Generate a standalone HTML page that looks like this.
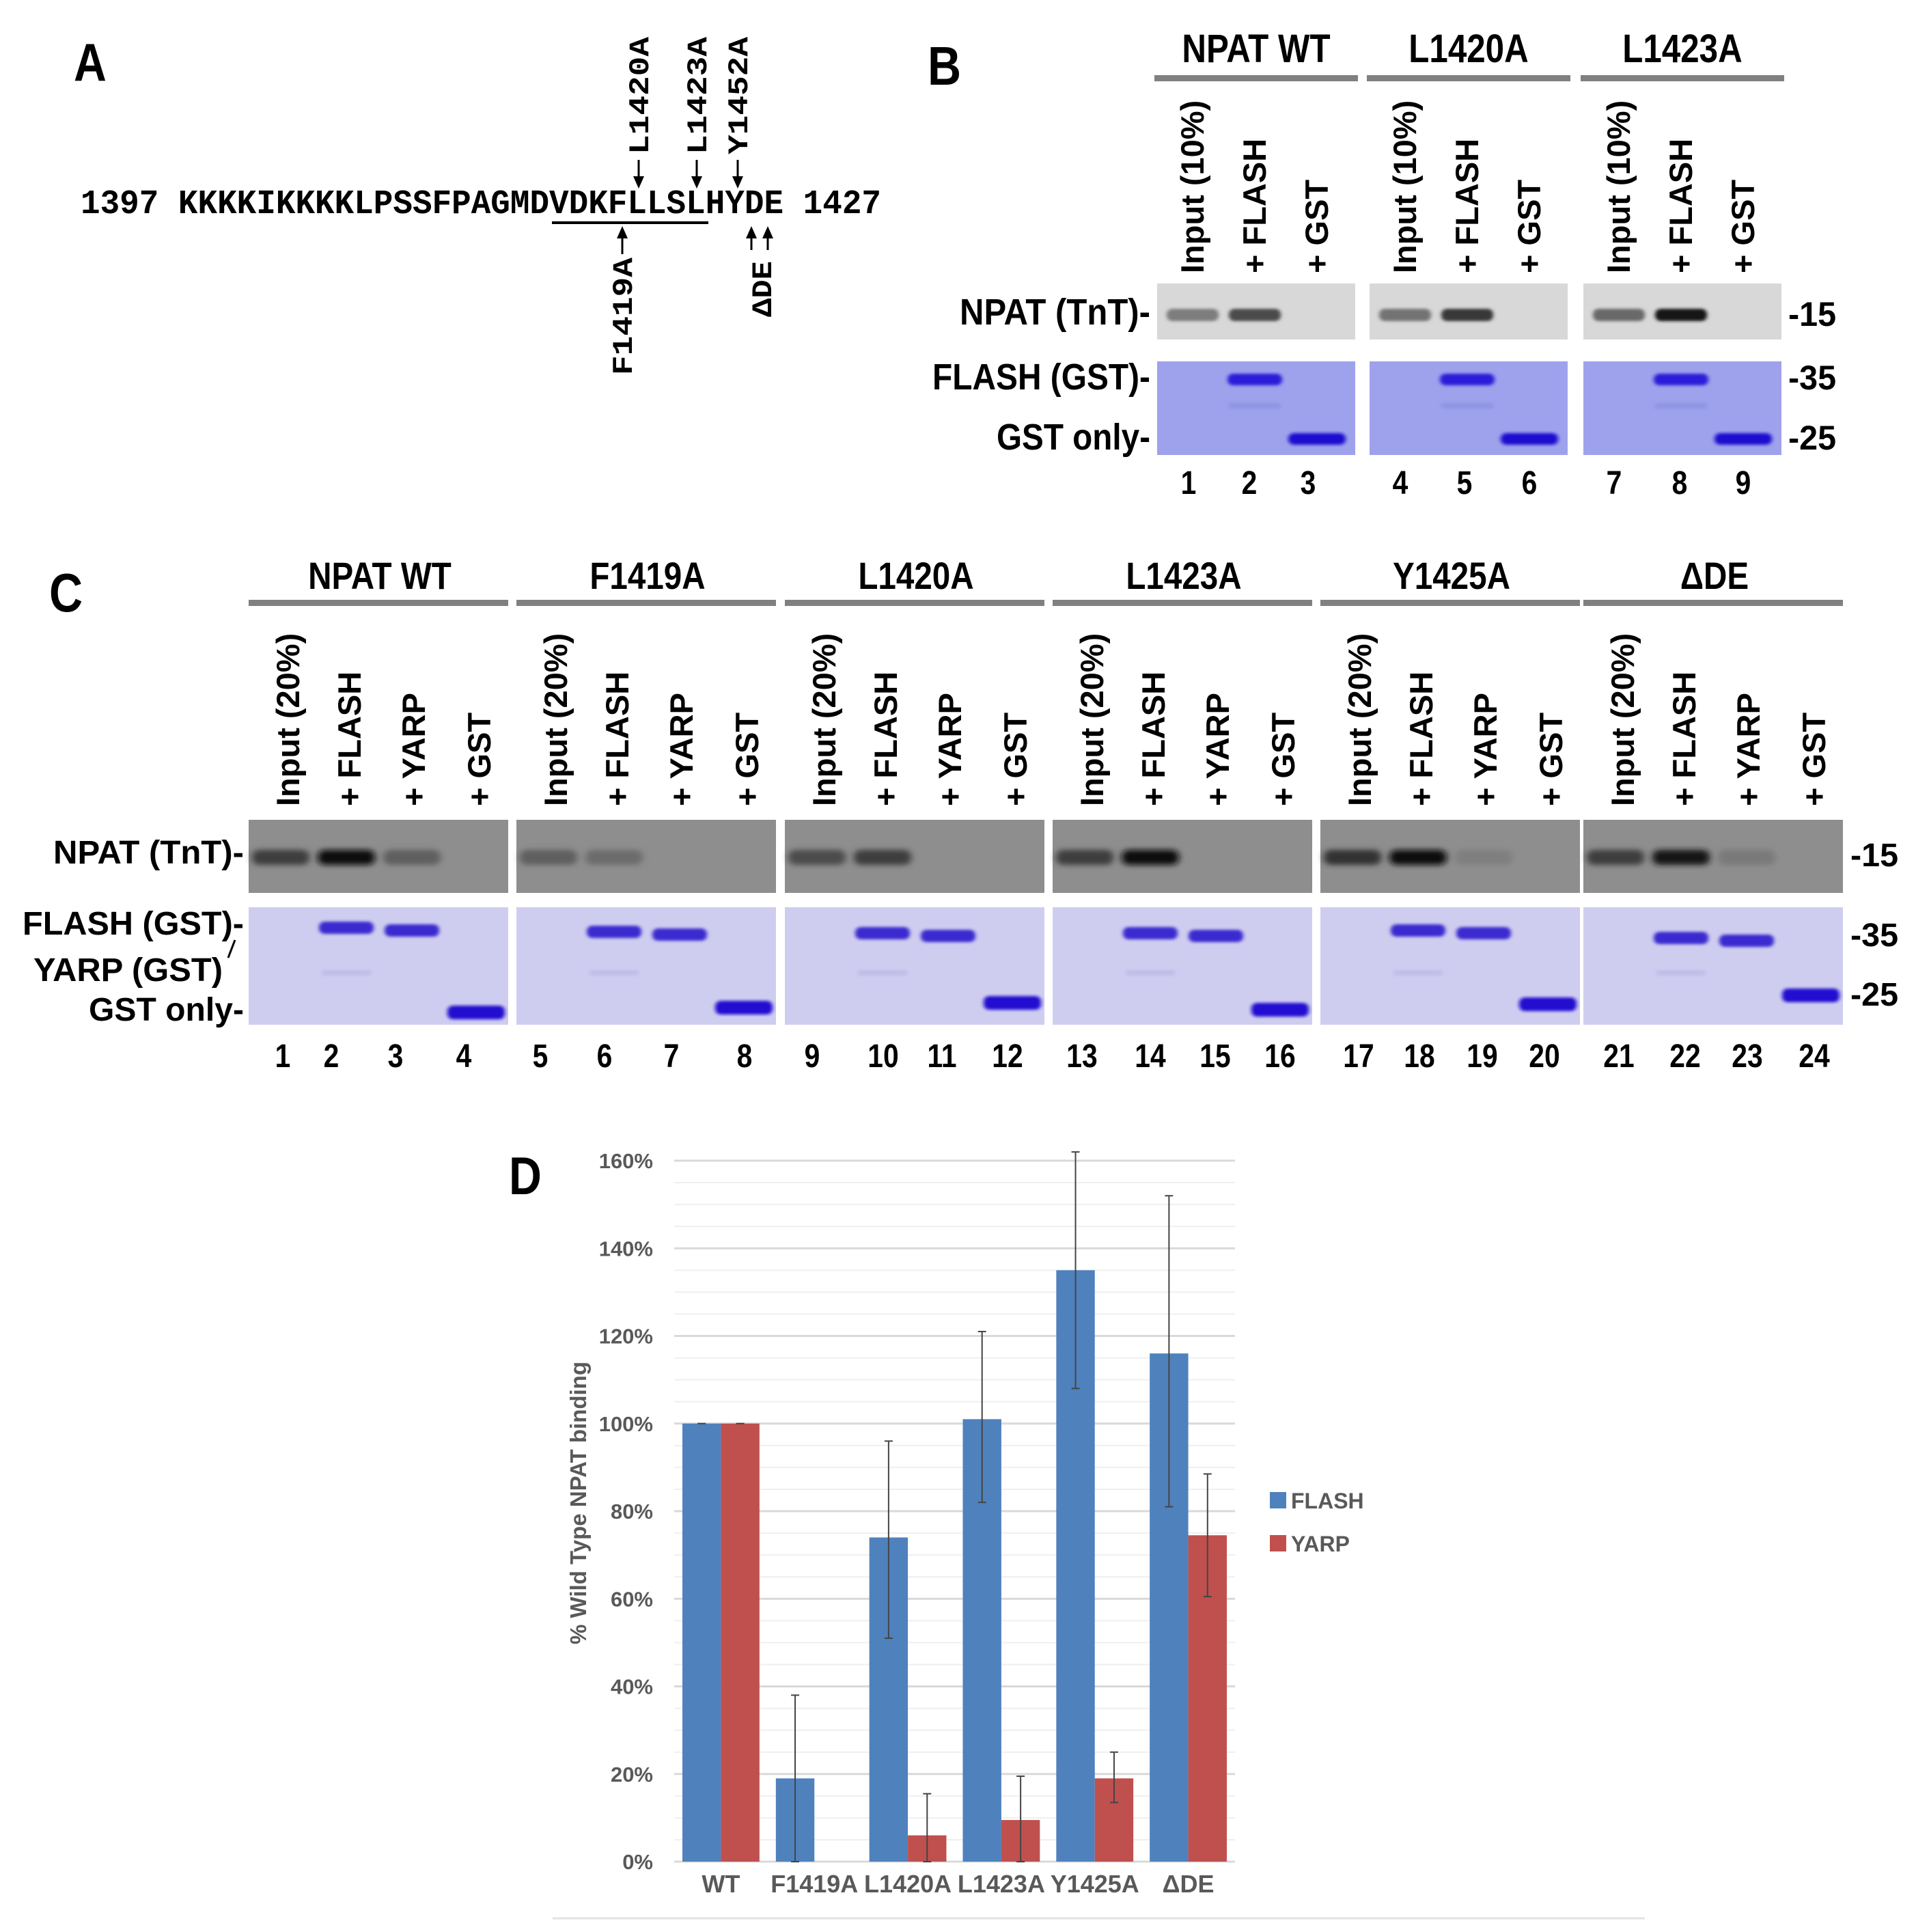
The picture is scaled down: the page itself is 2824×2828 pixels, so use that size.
<!DOCTYPE html>
<html><head><meta charset="utf-8"><style>
html,body{margin:0;padding:0;background:#fff;}
svg{display:block;}
.b{font-family:"Liberation Sans",sans-serif;font-weight:bold;fill:#000;}
.a{font-family:"Liberation Sans",sans-serif;font-weight:bold;fill:#000;}
.m{font-family:"Liberation Mono",monospace;font-weight:bold;fill:#000;}
.g{font-family:"Liberation Sans",sans-serif;font-weight:bold;fill:#595959;}
</style></head><body>
<svg id="fig" width="2824" height="2828" viewBox="0 0 2824 2828" xmlns="http://www.w3.org/2000/svg">
<defs>
<filter id="bl" x="-30%" y="-100%" width="160%" height="300%"><feGaussianBlur stdDeviation="5 4"/></filter>
<filter id="bl2" x="-30%" y="-100%" width="160%" height="300%"><feGaussianBlur stdDeviation="3 2"/></filter>
</defs>

<!-- Panel A -->
<g>
<text class="b" x="108" y="118" font-size="78">A</text>
<text class="m" x="118" y="312" font-size="50" textLength="1172" lengthAdjust="spacingAndGlyphs">1397 KKKKIKKKKLPSSFPAGMDVDKFLLSLHYDE 1427</text>
<line x1="808" y1="326" x2="1037" y2="326" stroke="#000" stroke-width="4"/>
<g>
<text class="m" font-size="42" transform="translate(949,226) rotate(-90)" textLength="172" lengthAdjust="spacingAndGlyphs">L1420A</text>
<text class="m" font-size="42" transform="translate(1034,226) rotate(-90)" textLength="172" lengthAdjust="spacingAndGlyphs">L1423A</text>
<text class="m" font-size="42" transform="translate(1094,226) rotate(-90)" textLength="172" lengthAdjust="spacingAndGlyphs">Y1452A</text>
<text class="m" font-size="42" transform="translate(925,549) rotate(-90)" textLength="172" lengthAdjust="spacingAndGlyphs">F1419A</text>
<text class="m" font-size="42" transform="translate(1129,464) rotate(-90)" textLength="82" lengthAdjust="spacingAndGlyphs">ΔDE</text>
<g stroke="#000" stroke-width="3">
<line x1="935" y1="234" x2="935" y2="262"/><line x1="1020" y1="234" x2="1020" y2="262"/><line x1="1080" y1="234" x2="1080" y2="262"/>
<line x1="911" y1="345" x2="911" y2="372"/><line x1="1100" y1="345" x2="1100" y2="366"/><line x1="1124" y1="345" x2="1124" y2="366"/>
</g>
<path d="M927,258h16l-8,18z M1012,258h16l-8,18z M1072,258h16l-8,18z M903,349h16l-8,-18z M1092,349h16l-8,-18z M1116,349h16l-8,-18z" fill="#000"/>
</g>
</g>

<!-- Panel B -->
<g id="panelB">
<text class="b" x="1358" y="124" font-size="80">B</text>
<text class="a" x="1405" y="475" font-size="54" textLength="279" lengthAdjust="spacingAndGlyphs">NPAT (TnT)-</text>
<text class="a" x="1365" y="570" font-size="54" textLength="319" lengthAdjust="spacingAndGlyphs">FLASH (GST)-</text>
<text class="a" x="1459" y="658" font-size="54" textLength="225" lengthAdjust="spacingAndGlyphs">GST only-</text>
<text class="a" x="2618" y="477" font-size="50" textLength="70" lengthAdjust="spacingAndGlyphs">-15</text>
<text class="a" x="2618" y="570" font-size="50" textLength="70" lengthAdjust="spacingAndGlyphs">-35</text>
<text class="a" x="2618" y="658" font-size="50" textLength="70" lengthAdjust="spacingAndGlyphs">-25</text>
</g>

<!-- Panel C -->
<g id="panelC">
<text class="b" x="72" y="895" font-size="80">C</text>
<text class="a" x="78" y="1264" font-size="48" textLength="279" lengthAdjust="spacingAndGlyphs">NPAT (TnT)-</text>
<text class="a" x="33" y="1368" font-size="48" textLength="324" lengthAdjust="spacingAndGlyphs">FLASH (GST)-</text>
<text class="a" x="49" y="1436" font-size="48" textLength="277" lengthAdjust="spacingAndGlyphs">YARP (GST)</text>
<line x1="334" y1="1402" x2="344" y2="1376" stroke="#000" stroke-width="3"/>
<text class="a" x="130" y="1494" font-size="48" textLength="227" lengthAdjust="spacingAndGlyphs">GST only-</text>
<text class="a" x="2709" y="1268" font-size="48" textLength="70" lengthAdjust="spacingAndGlyphs">-15</text>
<text class="a" x="2709" y="1385" font-size="48" textLength="70" lengthAdjust="spacingAndGlyphs">-35</text>
<text class="a" x="2709" y="1472" font-size="48" textLength="70" lengthAdjust="spacingAndGlyphs">-25</text>
</g>

<!-- Panel D -->
<g id="panelD">
<text class="b" x="745" y="1748" font-size="78">D</text>
<g id="grid"></g><g id="bars"></g><g id="errs"></g><g id="ticks"></g><g id="cats"></g>
<text class="g" font-size="33" text-anchor="middle" transform="translate(858,2200) rotate(-90)">% Wild Type NPAT binding</text>
<rect x="1859" y="2184" width="24" height="24" fill="#4f81bd"/>
<text class="g" x="1890" y="2208" font-size="32">FLASH</text>
<rect x="1859" y="2247" width="24" height="24" fill="#c0504d"/>
<text class="g" x="1890" y="2271" font-size="32">YARP</text>
<line x1="809" y1="2808" x2="2408" y2="2808" stroke="#e3e3e3" stroke-width="3"/>
</g>
</svg>
<script>
// ---- Chart D data ----
const categories = ["WT","F1419A","L1420A","L1423A","Y1425A","ΔDE"];
const flashValues = [100, 19, 74, 101, 135, 116];
const flashErrLow = [0, 19, 23, 19, 27, 35];
const flashErrHigh = [0, 19, 22, 20, 27, 36];
const yarpValues = [100, 0, 6, 9.5, 19, 74.5];
const yarpErrLow = [0, 0, 6, 9.5, 5.5, 14];
const yarpErrHigh = [0, 0, 9.5, 10, 6, 14];
const yTicks = [0,20,40,60,80,100,120,140,160];
const yTickLabels = ["0%","20%","40%","60%","80%","100%","120%","140%","160%"];

// ---- Gel data ----
const groupsB = ["NPAT WT","L1420A","L1423A"];
const laneLabelsB = ["Input (10%)","+ FLASH","+ GST"];
const npatB = [[0.45,0.7,0],[0.5,0.8,0],[0.55,0.95,0]];
const groupsC = ["NPAT WT","F1419A","L1420A","L1423A","Y1425A","ΔDE"];
const laneLabelsC = ["Input (20%)","+ FLASH","+ YARP","+ GST"];
const npatC = [[0.6,1,0.35,0],[0.35,0.25,0,0],[0.5,0.6,0,0],[0.6,0.95,0,0],[0.7,1,0.1,0],[0.6,0.9,0.15,0]];

const NS="http://www.w3.org/2000/svg";
function mk(tag, attrs, parent, txt){const e=document.createElementNS(NS,tag);for(const k in attrs)e.setAttribute(k,attrs[k]);if(txt!==undefined)e.textContent=txt;parent.appendChild(e);return e;}

// axes for chart
const plotL=987, plotR=1808, y0=2725, y160=1699;
const yS=v=>y0-(v/160)*(y0-y160);
const band=(plotR-plotL)/categories.length;
const xS=i=>plotL+band*i;
const barW=(band-24)/2;

const grid=document.getElementById('grid');
for(let v=0;v<=160;v+=5){
  const l=mk('line',{x1:plotL,x2:plotR,y1:yS(v),y2:yS(v),stroke:v%20===0?'#d9d9d9':'#efefef','stroke-width':v%20===0?3:2},grid);
  
  
}
const ticks=document.getElementById('ticks');
yTicks.forEach((v,i)=>{
  const t=mk('text',{x:956,y:yS(v)+11,'font-size':31,'text-anchor':'end','class':'g'},ticks,yTickLabels[i]);
  
  
});
const bars=document.getElementById('bars'), errs=document.getElementById('errs'), cats=document.getElementById('cats');
function errBar(cx,v,lo,hi){
  if(lo===0&&hi===0){ const c=mk('line',{x1:cx-6,x2:cx+6,y1:yS(v),y2:yS(v),stroke:'#444','stroke-width':2},errs);return;}
  const a=yS(Math.max(0,v-lo)), b=yS(v+hi);
  const l=mk('line',{x1:cx,x2:cx,y1:a,y2:b,stroke:'#444','stroke-width':2},errs);
  
  
  [a,b].forEach(y=>{const c=mk('line',{x1:cx-6,x2:cx+6,y1:y,y2:y,stroke:'#444','stroke-width':2},errs);
  
  });
}
categories.forEach((c,i)=>{
  const x=xS(i)+12;
  const r1=mk('rect',{x:x,y:yS(flashValues[i]),width:barW,height:y0-yS(flashValues[i]),fill:'#4f81bd'},bars);
  
  
  if(yarpValues[i]>0){
    const r2=mk('rect',{x:x+barW,y:yS(yarpValues[i]),width:barW,height:y0-yS(yarpValues[i]),fill:'#c0504d'},bars);
    
    
    errBar(x+barW*1.5,yarpValues[i],yarpErrLow[i],yarpErrHigh[i]);
  }
  errBar(x+barW*0.5,flashValues[i],flashErrLow[i],flashErrHigh[i]);
  const t=mk('text',{x:xS(i)+band/2,y:2770,'font-size':36,'text-anchor':'middle','class':'g'},cats,c);
  
  
});

// ---- Panel B gels ----
const pB=document.getElementById('panelB');
const bStarts=[1694,2005,2318], bW=290, bLane=[52,143,234];
const bLaneNum=[1740,1829,1915, 2050,2144,2239, 2363,2459,2552];
groupsB.forEach((g,gi)=>{
  const x0=bStarts[gi];
  const h=mk('text',{x:x0+bW/2,y:91,'font-size':58,'text-anchor':'middle','class':'b'},pB,g);
  
  
  const ln=mk('rect',{x:x0-4,y:110,width:bW+8,height:9,fill:'#808080'},pB);
  
  
  laneLabelsB.forEach((lab,li)=>{
    const t=mk('text',{'font-size':47,'class':'a',transform:`translate(${x0+bLane[li]+16},400) rotate(-90)`},pB,lab);
    
    
  });
  const s1=mk('rect',{x:x0,y:415,width:bW,height:82,fill:'#d8d8d8'},pB);
  
  
  npatB[gi].forEach((v,li)=>{ if(v>0){
    const c=Math.round(215-200*v);
    const e=mk('rect',{x:x0+bLane[li]-38,y:452,width:76,height:18,rx:8,fill:`rgb(${c},${c},${c})`,filter:'url(#bl2)'},pB);
    
    
  }});
  const s2=mk('rect',{x:x0,y:529,width:bW,height:137,fill:'#9ea2ec'},pB);
  
  
  const f=mk('rect',{x:x0+bLane[1]-40,y:547,width:80,height:17,rx:8,fill:'#2a1cd8',filter:'url(#bl2)'},pB);
  
  
  mk('rect',{x:x0+bLane[1]-38,y:590,width:76,height:8,fill:'#8f94e4',filter:'url(#bl2)'},pB);
  const gs=mk('rect',{x:x0+bLane[2]-42,y:634,width:84,height:17,rx:8,fill:'#1e10d0',filter:'url(#bl2)'},pB);
  
  
});
bLaneNum.forEach((x,i)=>{
  const t=mk('text',{x:x,y:723,'font-size':48,'text-anchor':'middle','class':'b'},pB,String(i+1));
  
  
});

// ---- Panel C gels ----
const pC=document.getElementById('panelC');
const cStarts=[364,756,1149,1541,1933,2318], cW=384, cLane=[47,143,239,333];
const cLabX=[58,148,242,338];
const flashY=[1358,1364,1366,1366,1362,1373], gstY=[1482,1475,1468,1478,1470,1457];
const cNumX=[414,485,579,679, 791,885,983,1090, 1189,1293,1379,1475, 1584,1684,1779,1874, 1989,2078,2170,2261, 2370,2467,2558,2656];
groupsC.forEach((g,gi)=>{
  const x0=cStarts[gi];
  const h=mk('text',{x:x0+cW/2,y:862,'font-size':56,'text-anchor':'middle','class':'b'},pC,g);
  
  
  const ln=mk('rect',{x:x0,y:878,width:cW-4,height:9,fill:'#808080'},pC);
  
  
  laneLabelsC.forEach((lab,li)=>{
    const t=mk('text',{'font-size':47,'class':'a',transform:`translate(${x0+cLabX[li]+16},1180) rotate(-90)`},pC,lab);
    
    
  });
  const s1=mk('rect',{x:x0,y:1200,width:cW-4,height:107,fill:'#8e8e8e'},pC);
  
  
  npatC[gi].forEach((v,li)=>{ if(v>0){
    const c=Math.round(140-130*v);
    const e=mk('rect',{x:x0+cLane[li]-42,y:1244,width:84,height:22,rx:10,fill:`rgb(${c},${c},${c})`,filter:'url(#bl)'},pC);
    
    
  }});
  const s2=mk('rect',{x:x0,y:1328,width:cW-4,height:172,fill:'#cfcdef'},pC);
  
  
  [1,2].forEach(li=>{
    const b=mk('rect',{x:x0+cLane[li]-40,y:flashY[gi]-9+(li===2?4:0),width:80,height:18,rx:8,fill:'#3a2cd0',filter:'url(#bl2)'},pC);
    
    
  });
  mk('rect',{x:x0+cLane[1]-36,y:1420,width:72,height:8,fill:'#c0bde8',filter:'url(#bl2)'},pC);
  const gs=mk('rect',{x:x0+cLane[3]-42,y:gstY[gi]-10,width:84,height:20,rx:8,fill:'#2410d0',filter:'url(#bl2)'},pC);
  
  
});
cNumX.forEach((x,i)=>{
  const t=mk('text',{x:x,y:1562,'font-size':48,'text-anchor':'middle','class':'b'},pC,String(i+1));
  
  
});

// condense bold narrow-style labels
document.querySelectorAll('text.b').forEach(t=>{
  try{const w=t.getComputedTextLength(); if(w>0){t.setAttribute('textLength',(w*0.85).toFixed(1));t.setAttribute('lengthAdjust','spacingAndGlyphs');}}catch(e){}
});
</script>
</body></html>
